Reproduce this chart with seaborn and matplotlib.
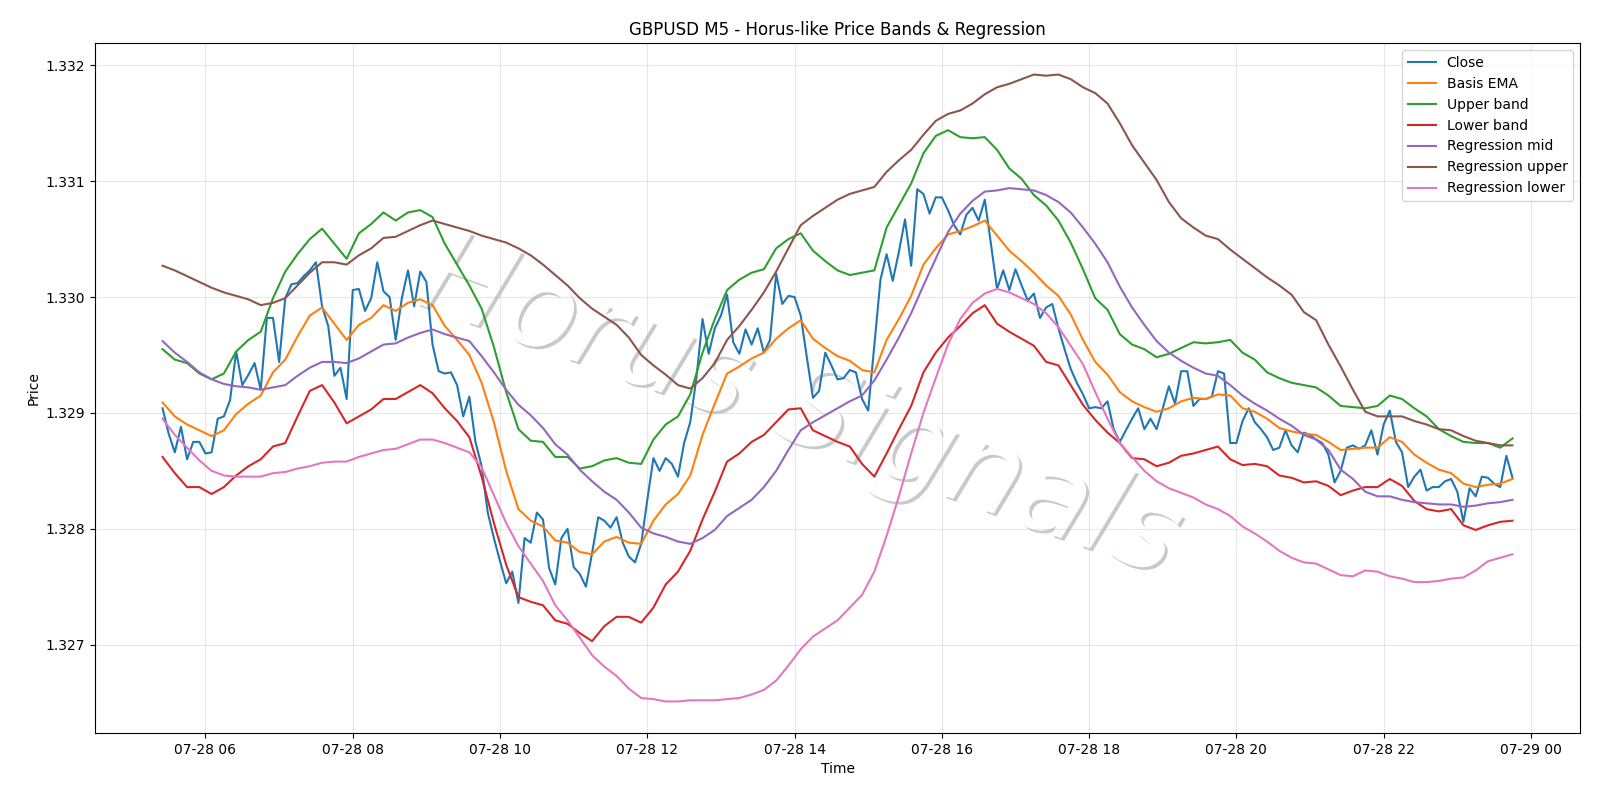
import pandas as pd
import seaborn as sns
import matplotlib.pyplot as plt
import matplotlib.patheffects as pe

# GBPUSD M5 close, 05:25 -> 23:45 (5 min bars)
close = [
    1.32904, 1.32882, 1.32866, 1.32888, 1.32860, 1.32875, 1.32875, 1.32865, 1.32866, 1.32895,
    1.32897, 1.32911, 1.32953, 1.32924, 1.32933, 1.32943, 1.32920, 1.32982, 1.32982, 1.32944,
    1.32999, 1.33011, 1.33012, 1.33018, 1.33023, 1.33030, 1.32992, 1.32975, 1.32932, 1.32939,
    1.32912, 1.33006, 1.33007, 1.32988, 1.32999, 1.33030, 1.33005, 1.33000, 1.32963, 1.32999,
    1.33023, 1.32992, 1.33022, 1.33013, 1.32959, 1.32936, 1.32934, 1.32935, 1.32924, 1.32897,
    1.32914, 1.32875, 1.32854, 1.32814, 1.32792, 1.32772, 1.32753, 1.32763, 1.32736, 1.32792,
    1.32788, 1.32814, 1.32808, 1.32766, 1.32752, 1.32792, 1.32800, 1.32767, 1.32761, 1.32750,
    1.32779, 1.32810, 1.32807, 1.32801, 1.32810, 1.32788, 1.32776, 1.32771, 1.32787, 1.32825,
    1.32861, 1.32850, 1.32861, 1.32856, 1.32845, 1.32874, 1.32892, 1.32930, 1.32981, 1.32951,
    1.32973, 1.32984, 1.33002, 1.32961, 1.32951, 1.32972, 1.32959, 1.32973, 1.32952, 1.32963,
    1.33020, 1.32994, 1.33001, 1.33000, 1.32984, 1.32948, 1.32913, 1.32919, 1.32952, 1.32941,
    1.32929, 1.32930, 1.32937, 1.32935, 1.32912, 1.32902, 1.32959, 1.33015, 1.33037, 1.33014,
    1.33039, 1.33067, 1.33027, 1.33093, 1.33089, 1.33072, 1.33086, 1.33086, 1.33075, 1.33062,
    1.33054, 1.33071, 1.33077, 1.33066, 1.33084, 1.33046, 1.33007, 1.33023, 1.33006, 1.33024,
    1.33010, 1.32997, 1.33003, 1.32982, 1.32991, 1.32994, 1.32973, 1.32955, 1.32938, 1.32926,
    1.32916, 1.32904, 1.32905, 1.32904, 1.32910, 1.32886, 1.32875, 1.32885, 1.32895, 1.32904,
    1.32886, 1.32895, 1.32886, 1.32904, 1.32923, 1.32908, 1.32936, 1.32936, 1.32906, 1.32912,
    1.32912, 1.32914, 1.32936, 1.32934, 1.32874, 1.32874, 1.32893, 1.32904, 1.32892, 1.32886,
    1.32879, 1.32868, 1.32870, 1.32885, 1.32872, 1.32866, 1.32883, 1.32881, 1.32877, 1.32874,
    1.32864, 1.32840, 1.32850, 1.32870, 1.32872, 1.32869, 1.32872, 1.32885, 1.32864, 1.32890,
    1.32902, 1.32875, 1.32866, 1.32836, 1.32845, 1.32851, 1.32833, 1.32836, 1.32836, 1.32841,
    1.32843, 1.32832, 1.32806, 1.32835, 1.32828, 1.32845, 1.32844, 1.32839, 1.32836, 1.32863,
    1.32844,
]

# indicator lines, read every 10 min from 05:25
basis_ema = [
    1.32909, 1.32897, 1.32890, 1.32885, 1.32880, 1.32885, 1.32899, 1.32908, 1.32915, 1.32935,
    1.32946, 1.32966, 1.32984, 1.32991, 1.32977, 1.32963, 1.32976, 1.32982, 1.32993, 1.32988,
    1.32995, 1.32998, 1.32993, 1.32975, 1.32963, 1.32950, 1.32926, 1.32892, 1.32850, 1.32817,
    1.32807, 1.32802, 1.32790, 1.32788, 1.32780, 1.32778, 1.32789, 1.32793, 1.32788, 1.32787,
    1.32807, 1.32821, 1.32830, 1.32846, 1.32881, 1.32908, 1.32934, 1.32940, 1.32947, 1.32952,
    1.32964, 1.32973, 1.32980, 1.32964, 1.32956, 1.32949, 1.32945, 1.32937, 1.32935, 1.32963,
    1.32981, 1.33001, 1.33028, 1.33042, 1.33054, 1.33057, 1.33061, 1.33066, 1.33053, 1.33040,
    1.33031, 1.33021, 1.33010, 1.33001, 1.32985, 1.32963, 1.32944, 1.32933, 1.32918, 1.32910,
    1.32905, 1.32901, 1.32904, 1.32910, 1.32913, 1.32912, 1.32916, 1.32915, 1.32904, 1.32901,
    1.32895, 1.32887, 1.32884, 1.32882, 1.32881, 1.32875, 1.32868, 1.32869, 1.32870, 1.32870,
    1.32879, 1.32875, 1.32864, 1.32857, 1.32851, 1.32848, 1.32839, 1.32836, 1.32838, 1.32839,
    1.32843,
]
upper_band = [
    1.32955, 1.32946, 1.32943, 1.32934, 1.32929, 1.32934, 1.32953, 1.32963, 1.32970, 1.32999,
    1.33022, 1.33037, 1.33050, 1.33059, 1.33046, 1.33033, 1.33055, 1.33063, 1.33073, 1.33066,
    1.33073, 1.33075, 1.33069, 1.33046, 1.33028, 1.33010, 1.32990, 1.32957, 1.32918, 1.32886,
    1.32876, 1.32875, 1.32862, 1.32862, 1.32852, 1.32854, 1.32859, 1.32861, 1.32857, 1.32856,
    1.32877, 1.32890, 1.32897, 1.32916, 1.32952, 1.32981, 1.33006, 1.33015, 1.33021, 1.33024,
    1.33042, 1.33050, 1.33055, 1.33040, 1.33031, 1.33023, 1.33019, 1.33021, 1.33023, 1.33060,
    1.33079, 1.33098, 1.33124, 1.33139, 1.33144, 1.33138, 1.33137, 1.33138, 1.33127, 1.33111,
    1.33102, 1.33088, 1.33079, 1.33066, 1.33047, 1.33024, 1.32999, 1.32989, 1.32968, 1.32959,
    1.32955, 1.32948, 1.32951, 1.32956, 1.32961, 1.32960, 1.32961, 1.32963, 1.32952, 1.32946,
    1.32935, 1.32930, 1.32926, 1.32924, 1.32922, 1.32915, 1.32906, 1.32905, 1.32904, 1.32906,
    1.32915, 1.32912, 1.32904, 1.32897, 1.32886, 1.32880, 1.32875, 1.32874, 1.32874, 1.32870,
    1.32878,
]
lower_band = [
    1.32862, 1.32848, 1.32836, 1.32836, 1.32830, 1.32836, 1.32846, 1.32854, 1.32860, 1.32871,
    1.32874, 1.32897, 1.32919, 1.32924, 1.32909, 1.32891, 1.32897, 1.32903, 1.32912, 1.32912,
    1.32918, 1.32924, 1.32917, 1.32904, 1.32893, 1.32879, 1.32845, 1.32805, 1.32769, 1.32741,
    1.32737, 1.32734, 1.32721, 1.32718, 1.32710, 1.32703, 1.32716, 1.32724, 1.32724, 1.32719,
    1.32732, 1.32752, 1.32763, 1.32781, 1.32808, 1.32832, 1.32858, 1.32865, 1.32875, 1.32881,
    1.32892, 1.32903, 1.32904, 1.32885, 1.32880, 1.32875, 1.32871, 1.32856, 1.32845, 1.32865,
    1.32886, 1.32906, 1.32935, 1.32952, 1.32965, 1.32975, 1.32986, 1.32993, 1.32977, 1.32970,
    1.32964, 1.32958, 1.32944, 1.32941, 1.32924, 1.32907, 1.32894, 1.32883, 1.32874, 1.32861,
    1.32860, 1.32854, 1.32857, 1.32863, 1.32865, 1.32868, 1.32871, 1.32860, 1.32855, 1.32856,
    1.32854, 1.32846, 1.32844, 1.32840, 1.32841, 1.32837, 1.32829, 1.32833, 1.32836, 1.32836,
    1.32843, 1.32837, 1.32824, 1.32817, 1.32815, 1.32817, 1.32803, 1.32799, 1.32803, 1.32806,
    1.32807,
]
reg_mid = [
    1.32962, 1.32952, 1.32944, 1.32935, 1.32929, 1.32925, 1.32923, 1.32922, 1.32920, 1.32922,
    1.32924, 1.32932, 1.32939, 1.32944, 1.32944, 1.32943, 1.32947, 1.32953, 1.32959, 1.32960,
    1.32965, 1.32969, 1.32972, 1.32968, 1.32965, 1.32962, 1.32949, 1.32935, 1.32920, 1.32907,
    1.32898, 1.32887, 1.32873, 1.32864, 1.32851, 1.32841, 1.32832, 1.32825, 1.32814, 1.32801,
    1.32796, 1.32793, 1.32789, 1.32787, 1.32792, 1.32799, 1.32811, 1.32818, 1.32825, 1.32836,
    1.32850, 1.32868, 1.32885, 1.32892, 1.32898, 1.32904, 1.32910, 1.32915, 1.32928, 1.32946,
    1.32965, 1.32986, 1.33010, 1.33033, 1.33056, 1.33072, 1.33083, 1.33091, 1.33092, 1.33094,
    1.33093, 1.33092, 1.33088, 1.33082, 1.33073, 1.33060, 1.33046, 1.33030, 1.33009, 1.32991,
    1.32976, 1.32962, 1.32952, 1.32945, 1.32939, 1.32934, 1.32932, 1.32924, 1.32915, 1.32908,
    1.32902, 1.32895, 1.32889, 1.32881, 1.32877, 1.32868, 1.32851, 1.32843, 1.32832, 1.32828,
    1.32828, 1.32825, 1.32823, 1.32822, 1.32821, 1.32821, 1.32819, 1.32820, 1.32822, 1.32823,
    1.32825,
]
reg_upper = [
    1.33027, 1.33023, 1.33018, 1.33013, 1.33008, 1.33004, 1.33001, 1.32998, 1.32993, 1.32995,
    1.32999, 1.33010, 1.33021, 1.33030, 1.33030, 1.33028, 1.33036, 1.33042, 1.33051, 1.33052,
    1.33057, 1.33062, 1.33066, 1.33063, 1.33060, 1.33057, 1.33053, 1.33050, 1.33047, 1.33042,
    1.33036, 1.33028, 1.33019, 1.33010, 1.32999, 1.32990, 1.32983, 1.32976, 1.32965, 1.32950,
    1.32941, 1.32933, 1.32924, 1.32921, 1.32930, 1.32943, 1.32963, 1.32975, 1.32989, 1.33004,
    1.33022, 1.33042, 1.33062, 1.33070, 1.33077, 1.33084, 1.33089, 1.33092, 1.33095, 1.33108,
    1.33118, 1.33127, 1.33140, 1.33152, 1.33158, 1.33161, 1.33167, 1.33175, 1.33181, 1.33184,
    1.33188, 1.33192, 1.33191, 1.33192, 1.33188, 1.33181, 1.33176, 1.33167, 1.33150, 1.33131,
    1.33116, 1.33101, 1.33082, 1.33068, 1.33060, 1.33053, 1.33050, 1.33041, 1.33033, 1.33025,
    1.33017, 1.33010, 1.33002, 1.32987, 1.32980, 1.32959, 1.32940, 1.32920, 1.32901, 1.32897,
    1.32897, 1.32897, 1.32893, 1.32890, 1.32886, 1.32885, 1.32880, 1.32876, 1.32874, 1.32872,
    1.32872,
]
reg_lower = [
    1.32895, 1.32881, 1.32870, 1.32859, 1.32850, 1.32846, 1.32845, 1.32845, 1.32845, 1.32848,
    1.32849, 1.32852, 1.32854, 1.32857, 1.32858, 1.32858, 1.32862, 1.32865, 1.32868, 1.32869,
    1.32873, 1.32877, 1.32877, 1.32874, 1.32870, 1.32866, 1.32853, 1.32829, 1.32805, 1.32785,
    1.32770, 1.32755, 1.32734, 1.32721, 1.32706, 1.32691, 1.32681, 1.32673, 1.32662, 1.32654,
    1.32653, 1.32651, 1.32651, 1.32652, 1.32652, 1.32652, 1.32653, 1.32654, 1.32657, 1.32661,
    1.32669, 1.32682, 1.32696, 1.32707, 1.32714, 1.32721, 1.32732, 1.32743, 1.32763, 1.32794,
    1.32828, 1.32865, 1.32900, 1.32930, 1.32959, 1.32981, 1.32995, 1.33003, 1.33007, 1.33004,
    1.32999, 1.32994, 1.32986, 1.32974, 1.32958, 1.32942, 1.32918, 1.32895, 1.32874, 1.32862,
    1.32850, 1.32841, 1.32835, 1.32831, 1.32827, 1.32821, 1.32817, 1.32811, 1.32802, 1.32796,
    1.32789, 1.32781, 1.32775, 1.32771, 1.32770, 1.32765, 1.32760, 1.32759, 1.32764, 1.32763,
    1.32759, 1.32757, 1.32754, 1.32754, 1.32755, 1.32757, 1.32758, 1.32764, 1.32772, 1.32775,
    1.32778,
]

t_close = pd.date_range("2025-07-28 05:25", periods=len(close), freq="5min")
t_ind = pd.date_range("2025-07-28 05:25", periods=len(basis_ema), freq="10min")

fig, ax = plt.subplots(figsize=(16, 8), dpi=100)
fig.subplots_adjust(left=0.0594, right=0.9875, top=0.946, bottom=0.084)

# watermark under the lines
ax.text(0.5, 0.49, "Horus Signals", transform=fig.transFigure, fontsize=84,
        rotation=-20, style="italic", ha="center", va="center", color="white",
        zorder=0, path_effects=[pe.withSimplePatchShadow()])

sns.lineplot(x=t_close, y=close, ax=ax, label="Close", color="C0")
sns.lineplot(x=t_ind, y=basis_ema, ax=ax, label="Basis EMA", color="C1")
sns.lineplot(x=t_ind, y=upper_band, ax=ax, label="Upper band", color="C2")
sns.lineplot(x=t_ind, y=lower_band, ax=ax, label="Lower band", color="C3")
sns.lineplot(x=t_ind, y=reg_mid, ax=ax, label="Regression mid", color="C4")
sns.lineplot(x=t_ind, y=reg_upper, ax=ax, label="Regression upper", color="C5")
sns.lineplot(x=t_ind, y=reg_lower, ax=ax, label="Regression lower", color="C6")

ax.set_title("GBPUSD M5 - Horus-like Price Bands & Regression")
ax.set_xlabel("Time")
ax.set_ylabel("Price")
ax.grid(True, alpha=0.3)
ax.legend(loc="upper right")

fig.savefig("out.png", dpi=100)
